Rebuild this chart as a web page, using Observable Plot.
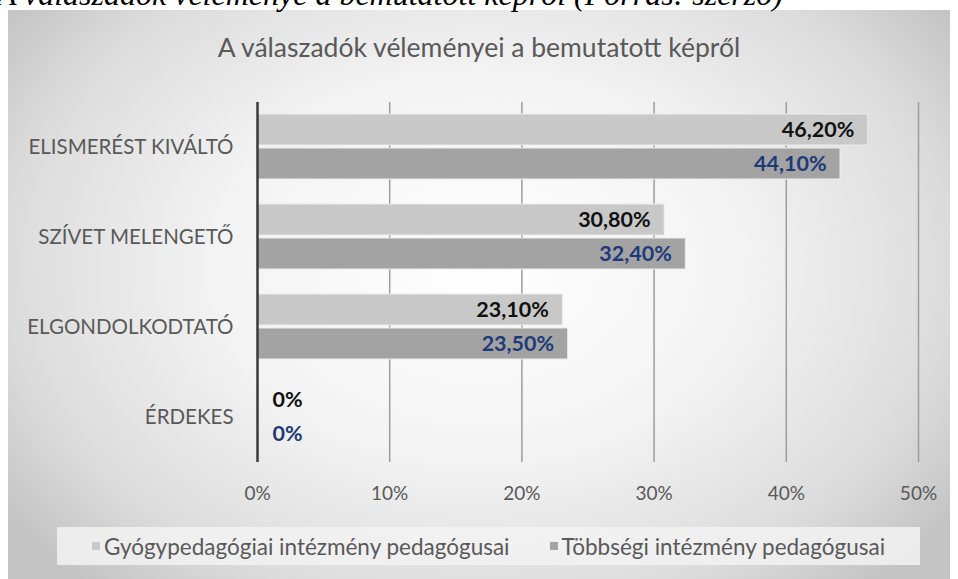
<!DOCTYPE html>
<html>
<head>
<meta charset="utf-8">
<script src="https://cdn.jsdelivr.net/npm/d3@7"></script>
<script src="https://cdn.jsdelivr.net/npm/@observablehq/plot@0.6"></script>
<style>
  html, body { margin: 0; padding: 0; background: #fff; }
  #page { position: relative; width: 958px; height: 579px; overflow: hidden; background: #fff; }
  #caption { position: absolute; left: -3px; top: -24px; font-family: "Liberation Serif", serif; font-style: italic; font-size: 32px; color: #000; white-space: nowrap; }
  #frame { position: absolute; left: 8px; top: 10px; width: 942px; height: 569px;
    background: radial-gradient(ellipse 62% 75% at 50% 45%, #ffffff 0%, #f3f3f3 45%, #dcdcdc 80%, #c4c4c4 100%); }
  #title { position: absolute; left: 0; top: 31px; width: 958px; text-align: center; font-family: Lato, "Open Sans", sans-serif; font-size: 26.5px; color: #595959; }
  #chart { position: absolute; left: 0; top: 0; }
  #legend { position: absolute; left: 57px; top: 527px; width: 863px; height: 38px; background: rgba(242,242,242,0.85);
    display: flex; align-items: center; justify-content: center; gap: 40px; font-family: Lato, "Open Sans", sans-serif; font-size: 22.5px; color: #595959; }
  .item { display: flex; align-items: center; gap: 4px; }
  .sw { width: 8px; height: 8px; display: inline-block; }
</style>
</head>
<body>
<div id="page">
  <div id="frame"></div>
  <div id="caption">A válaszadók véleménye a bemutatott képről (Forrás: szerző)</div>
  <div id="title">A válaszadók véleményei a bemutatott képről</div>
  <div id="chart"></div>
  <div id="legend"></div>
</div>
<script>
const categories = ["ELISMERÉST KIVÁLTÓ", "SZÍVET MELENGETŐ", "ELGONDOLKODTATÓ", "ÉRDEKES"];
const seriesNames = ["Gyógypedagógiai intézmény pedagógusai", "Többségi intézmény pedagógusai"];
const gyogyValues = [46.2, 30.8, 23.1, 0];
const tobbsegiValues = [44.1, 32.4, 23.5, 0];
const xTicks = [0, 10, 20, 30, 40, 50];
const xTickLabels = ["0%", "10%", "20%", "30%", "40%", "50%"];
const barColors = ["#c8c8c8", "#a3a3a3"];
const labelColors = ["#111111", "#1f3a78"];

const data = [];
categories.forEach((c, i) => {
  data.push({category: c, series: seriesNames[0], value: gyogyValues[i]});
  data.push({category: c, series: seriesNames[1], value: tobbsegiValues[i]});
});
const fmt = v => v === 0 ? "0%" : v.toFixed(2).replace(".", ",") + "%";

const chart = Plot.plot({
  width: 958,
  height: 520,
  marginLeft: 257,
  marginRight: 40,
  marginTop: 100,
  marginBottom: 57,
  style: {background: "transparent", fontFamily: "Lato, 'Open Sans', sans-serif", fontSize: "19px", color: "#595959", overflow: "visible"},
  x: {domain: [0, 50], ticks: xTicks, tickFormat: (d) => xTickLabels[xTicks.indexOf(d)], tickSize: 0, tickPadding: 24, label: null},
  fy: {domain: categories, padding: 0, label: null, tickSize: 0, tickPadding: 24, axis: "left"},
  y: {domain: seriesNames, paddingInner: 0.086, paddingOuter: 0.343, axis: null},
  color: {domain: seriesNames, range: barColors},
  facet: {data, y: "category", marginLeft: 257},
  marks: [
    Plot.ruleX(xTicks.filter(t => t > 0), {x: d => d, stroke: "#9c9c9c", strokeWidth: 1.5}),
    Plot.barX(data, {x: "value", y: "series", fill: "series", stroke: "#ececec", strokeWidth: 1}),
    Plot.text(data, {filter: d => d.value > 0, x: "value", y: "series", text: d => fmt(d.value), textAnchor: "end", dx: -14,
      fill: d => labelColors[seriesNames.indexOf(d.series)], fontWeight: "bold", fontSize: 21.5}),
    Plot.text(data, {filter: d => d.value === 0, x: "value", y: "series", text: d => fmt(d.value), textAnchor: "start", dx: 15,
      fill: d => labelColors[seriesNames.indexOf(d.series)], fontWeight: "bold", fontSize: 21.5}),
    Plot.ruleX([0], {stroke: "#3a3a3a", strokeWidth: 2.5})
  ]
});
chart.querySelectorAll('[aria-label="fy-axis tick label"] text, g[aria-label="fy-axis tick label"]').forEach(el => el.setAttribute("font-size", "20.5"));
document.getElementById("chart").appendChild(chart);

const legend = document.getElementById("legend");
seriesNames.forEach((s, i) => {
  const item = document.createElement("div");
  item.className = "item";
  const sw = document.createElement("span");
  sw.className = "sw";
  sw.style.background = barColors[i];
  const t = document.createElement("span");
  t.textContent = s;
  item.appendChild(sw);
  item.appendChild(t);
  legend.appendChild(item);
});
</script>
</body>
</html>
